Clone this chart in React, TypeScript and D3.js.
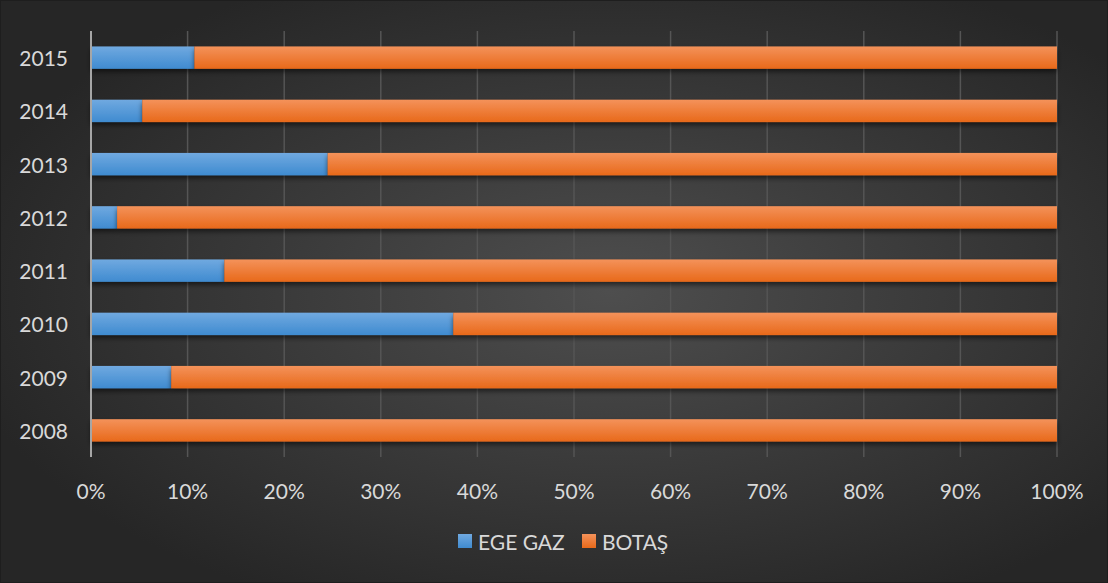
import React from "react";
import * as d3 from "d3";

const years = ["2015", "2014", "2013", "2012", "2011", "2010", "2009", "2008"];
const egeGaz = [10.7, 5.3, 24.5, 2.7, 13.8, 37.5, 8.3, 0];
const botas = [89.3, 94.7, 75.5, 97.3, 86.2, 62.5, 91.7, 100];
const ticks = [0, 10, 20, 30, 40, 50, 60, 70, 80, 90, 100];
const seriesNames = ["EGE GAZ", "BOTAŞ"];

const W = 1108;
const H = 583;
const FONT = "Lato, 'Open Sans', sans-serif";
const TEXT = "#d9d9d9";

export default function App() {
  const x = d3.scaleLinear().domain([0, 100]).range([91, 1057]);
  const y = d3.scaleBand().domain(years).range([31, 457]).paddingInner(0.58).paddingOuter(0.29);
  const rows = years.map((yr, i) => ({ yr, a: egeGaz[i], b: botas[i] }));
  const stack = d3.stack<any>().keys(["a", "b"])(rows);
  const fills = ["url(#gBlue)", "url(#gOrange)"];
  const legendX = [458, 582];

  return (
    <svg width={W} height={H} style={{ position: "absolute", left: 0, top: 0 }}>
      <defs>
        <radialGradient id="bg" cx="55%" cy="50%" r="60%">
          <stop offset="0%" stopColor="#4e4e4e" />
          <stop offset="100%" stopColor="#262626" />
        </radialGradient>
        <linearGradient id="gBlue" x1="0" y1="0" x2="0" y2="1">
          <stop offset="0%" stopColor="#70a9e0" />
          <stop offset="100%" stopColor="#3f8bd0" />
        </linearGradient>
        <linearGradient id="gOrange" x1="0" y1="0" x2="0" y2="1">
          <stop offset="0%" stopColor="#f4925a" />
          <stop offset="100%" stopColor="#e8691a" />
        </linearGradient>
        <filter id="shadow" x="-5%" y="-30%" width="110%" height="180%">
          <feDropShadow dx="0" dy="3" stdDeviation="2.5" floodColor="#000" floodOpacity="0.55" />
        </filter>
      </defs>
      <rect x={0} y={0} width={W} height={H} fill="url(#bg)" />
      <rect x={0.5} y={0.5} width={W - 1} height={H - 1} fill="none" stroke="#1e1e1e" />
      {ticks.slice(1).map((t) => (
        <line key={t} x1={x(t)} x2={x(t)} y1={31} y2={457} stroke="#555555" strokeWidth={1.5} />
      ))}
      {stack.map((s, si) => (
        <g key={si} filter="url(#shadow)">
          {s.map((d: any, i: number) => (
            <rect
              key={i}
              x={x(d[0])}
              width={Math.max(0, x(d[1]) - x(d[0]))}
              y={y(d.data.yr)}
              height={y.bandwidth()}
              fill={fills[si]}
            />
          ))}
        </g>
      ))}
      <line x1={x(0)} x2={x(0)} y1={31} y2={457} stroke="#a6a6a6" strokeWidth={2} />
      {years.map((yr) => (
        <text
          key={yr}
          x={68}
          y={(y(yr) as number) + y.bandwidth() / 2}
          textAnchor="end"
          dominantBaseline="central"
          fill={TEXT}
          fontFamily={FONT}
          fontSize={21}
        >
          {yr}
        </text>
      ))}
      {ticks.map((t) => (
        <text
          key={t}
          x={x(t)}
          y={490}
          textAnchor="middle"
          dominantBaseline="central"
          fill={TEXT}
          fontFamily={FONT}
          fontSize={21}
        >
          {t}%
        </text>
      ))}
      {seriesNames.map((n, i) => (
        <g key={n}>
          <rect x={legendX[i]} y={534} width={14} height={14} fill={fills[i]} />
          <text
            x={legendX[i] + 20}
            y={541}
            dominantBaseline="central"
            fill={TEXT}
            fontFamily={FONT}
            fontSize={21}
          >
            {n}
          </text>
        </g>
      ))}
    </svg>
  );
}
